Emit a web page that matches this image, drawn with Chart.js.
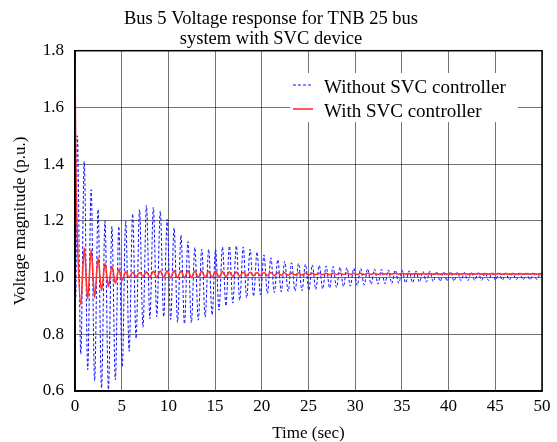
<!DOCTYPE html>
<html>
<head>
<meta charset="utf-8">
<script src="https://cdn.jsdelivr.net/npm/chart.js@4.4.1/dist/chart.umd.min.js"></script>
<style>
  html, body { margin: 0; padding: 0; background: #fff; }
  #wrap { width: 557px; height: 442px; }
</style>
</head>
<body>
<div id="wrap"><canvas id="voltChart" width="557" height="442"></canvas></div>
<script>
// time of each sample (sec) - turning points
const time = [
    0, 0.08,
    0.25, 0.62, 0.99, 1.36, 1.73, 2.10, 2.47, 2.84, 3.21, 3.58,
    3.95, 4.32, 4.69, 5.06, 5.43, 5.80, 6.17, 6.54, 6.91, 7.28,
    7.65, 8.02, 8.39, 8.76, 9.13, 9.50, 9.87, 10.24, 10.61, 10.98,
    11.35, 11.72, 12.09, 12.46, 12.83, 13.20, 13.57, 13.94, 14.31, 14.68,
    15.05, 15.42, 15.79, 16.16, 16.53, 16.90, 17.27, 17.64, 18.01, 18.38,
    18.75, 19.12, 19.49, 19.86, 20.23, 20.60, 20.97, 21.34, 21.71, 22.08,
    22.45, 22.82, 23.19, 23.56, 23.93, 24.30, 24.67, 25.04, 25.41, 25.78,
    26.15, 26.52, 26.89, 27.26, 27.63, 28.00, 28.37, 28.74, 29.11, 29.48,
    29.85, 30.22, 30.59, 30.96, 31.33, 31.70, 32.07, 32.44, 32.81, 33.18,
    33.55, 33.92, 34.29, 34.66, 35.03, 35.40, 35.77, 36.14, 36.51, 36.88,
    37.25, 37.62, 37.99, 38.36, 38.73, 39.10, 39.47, 39.84, 40.21, 40.58,
    40.95, 41.32, 41.69, 42.06, 42.43, 42.80, 43.17, 43.54, 43.91, 44.28,
    44.65, 45.02, 45.39, 45.76, 46.13, 46.50, 46.87, 47.24, 47.61, 47.98,
    48.35, 48.72, 49.09, 49.46, 49.83,
    50
];

// bus 5 voltage without SVC controller (p.u.)
const withoutSvc = [
    1.0, 0.93,
    1.50, 0.73, 1.41, 0.675, 1.31, 0.635, 1.24, 0.61, 1.20, 0.605,
    1.18, 0.64, 1.18, 0.685, 1.20, 0.74, 1.225, 0.785, 1.24, 0.825,
    1.255, 0.855, 1.248, 0.862, 1.235, 0.862, 1.205, 0.852, 1.175, 0.842,
    1.15, 0.837, 1.127, 0.84, 1.106, 0.85, 1.10, 0.86, 1.10, 0.868,
    1.10, 0.885, 1.108, 0.90, 1.111, 0.91, 1.112, 0.92, 1.108, 0.928,
    1.10, 0.934, 1.09, 0.94, 1.08, 0.944, 1.07, 0.947, 1.063, 0.95,
    1.057, 0.951, 1.052, 0.952, 1.05, 0.953, 1.047, 0.955, 1.045, 0.958,
    1.043, 0.96, 1.041, 0.963, 1.039, 0.965, 1.037, 0.968, 1.035, 0.97,
    1.033, 0.972, 1.032, 0.974, 1.031, 0.976, 1.03, 0.977, 1.029, 0.978,
    1.027, 0.979, 1.026, 0.98, 1.025, 0.981, 1.024, 0.982, 1.023, 0.984,
    1.022, 0.985, 1.022, 0.986, 1.021, 0.987, 1.02, 0.988, 1.02, 0.988,
    1.019, 0.989, 1.018, 0.989, 1.018, 0.99, 1.017, 0.99, 1.017, 0.99,
    1.016, 0.991, 1.016, 0.991, 1.015, 0.991, 1.015, 0.992, 1.014, 0.992,
    1.014, 0.992, 1.013, 0.993, 1.013,
    1.002
];

// bus 5 voltage with SVC controller (p.u.)
const withSvc = [
    1.75, 1.42,
    1.15, 0.905, 1.105, 0.925, 1.098, 0.93, 1.07, 0.955, 1.05, 0.968,
    1.04, 0.98, 1.028, 0.992, 1.02, 1.0, 1.018, 1.004, 1.018, 1.004,
    1.02, 1.002, 1.022, 1.0, 1.023, 1.0, 1.024, 0.999, 1.024, 0.999,
    1.024, 0.999, 1.024, 1.0, 1.023, 1.0, 1.023, 1.0, 1.022, 1.001,
    1.022, 1.002, 1.021, 1.003, 1.02, 1.004, 1.02, 1.005, 1.019, 1.006,
    1.019, 1.006, 1.018, 1.007, 1.018, 1.007, 1.018, 1.007, 1.017, 1.008,
    1.017, 1.008, 1.016, 1.009, 1.016, 1.009, 1.016, 1.009, 1.015, 1.01,
    1.015, 1.01, 1.015, 1.01, 1.015, 1.011, 1.015, 1.011, 1.015, 1.011,
    1.015, 1.011, 1.015, 1.011, 1.015, 1.011, 1.015, 1.011, 1.015, 1.012,
    1.015, 1.012, 1.015, 1.012, 1.015, 1.012, 1.014, 1.012, 1.014, 1.012,
    1.014, 1.012, 1.014, 1.012, 1.014, 1.012, 1.014, 1.012, 1.014, 1.012,
    1.014, 1.012, 1.014, 1.012, 1.014, 1.012, 1.014, 1.012, 1.014, 1.012,
    1.014, 1.012, 1.014, 1.012, 1.014, 1.012, 1.014, 1.012, 1.014, 1.012,
    1.014, 1.012, 1.014, 1.012, 1.014,
    1.013
];

const seriesLabels = ["Without SVC controller", "With SVC controller"];
const xTicks = [0, 5, 10, 15, 20, 25, 30, 35, 40, 45, 50];
const yTicks = [0.6, 0.8, 1.0, 1.2, 1.4, 1.6, 1.8];

const serif = "'Liberation Serif', 'Times New Roman', serif";

const toPoints = values => time.map((t, i) => ({ x: t, y: values[i] }));

// box round the plot + legend inside the plot
const frameLegend = {
    id: "frameLegend",
    afterDraw(chart) {
        const { ctx, chartArea: a } = chart;
        ctx.save();
        ctx.strokeStyle = "#000";
        ctx.lineWidth = 1.5;
        ctx.strokeRect(a.left, a.top, a.right - a.left, a.bottom - a.top);

        ctx.fillStyle = "#fff";
        ctx.fillRect(290, 73, 228, 49);

        const items = chart.data.datasets;
        const rows = [88, 112];
        ctx.font = "19px " + serif;
        ctx.textBaseline = "middle";
        items.forEach((ds, i) => {
            const y = rows[i] - 3;
            ctx.beginPath();
            ctx.strokeStyle = ds.borderColor;
            ctx.lineWidth = ds.borderWidth;
            ctx.setLineDash(ds.borderDash || []);
            ctx.moveTo(293, y);
            ctx.lineTo(313, y);
            ctx.stroke();
            ctx.setLineDash([]);
            ctx.fillStyle = "#000";
            ctx.fillText(ds.label, 324, rows[i]);
        });
        ctx.restore();
    }
};

new Chart(document.getElementById("voltChart"), {
    type: "line",
    data: {
        datasets: [
            {
                label: seriesLabels[0],
                data: toPoints(withoutSvc),
                borderColor: "#1010ff",
                borderWidth: 1,
                borderDash: [3, 2],
                pointRadius: 0,
                cubicInterpolationMode: "monotone",
                order: 1,
            },
            {
                label: seriesLabels[1],
                data: toPoints(withSvc),
                borderColor: "#ff3030",
                borderWidth: 1.6,
                pointRadius: 0,
                cubicInterpolationMode: "monotone",
                order: 0,
            },
        ],
    },
    options: {
        responsive: false,
        animation: false,
        devicePixelRatio: 1,
        layout: { padding: { left: 0, right: 15, top: 0, bottom: 0 } },
        plugins: {
            legend: { display: false },
            tooltip: { enabled: false },
            title: {
                display: true,
                text: ["Bus 5 Voltage response for TNB 25 bus", "system with SVC device"],
                color: "#000",
                font: { family: serif, size: 18.5, weight: "normal", lineHeight: 1.1 },
                padding: { top: 9, bottom: 1 },
            },
        },
        scales: {
            x: {
                type: "linear",
                min: 0,
                max: 50,
                afterBuildTicks: s => { s.ticks = xTicks.map(v => ({ value: v })); },
                afterFit: s => { s.height = 51; },
                ticks: {
                    color: "#000",
                    font: { family: serif, size: 17 },
                    padding: 5,
                    maxRotation: 0,
                },
                grid: { color: "rgba(0,0,0,0.55)", lineWidth: 1, drawTicks: false },
                border: { color: "#000", width: 1.5 },
                title: {
                    display: true,
                    text: "Time (sec)",
                    color: "#000",
                    font: { family: serif, size: 17, lineHeight: 1.0 },
                    padding: { top: 0, bottom: 0 },
                },
            },
            y: {
                min: 0.6,
                max: 1.8,
                afterBuildTicks: s => { s.ticks = yTicks.map(v => ({ value: v })); },
                afterFit: s => { s.width = 75; },
                ticks: {
                    color: "#000",
                    font: { family: serif, size: 17 },
                    padding: 11,
                    callback: v => v.toFixed(1),
                },
                grid: { color: "rgba(0,0,0,0.55)", lineWidth: 1, drawTicks: false },
                border: { color: "#000", width: 1.5 },
                title: {
                    display: true,
                    text: "Voltage magnitude (p.u.)",
                    color: "#000",
                    font: { family: serif, size: 17, lineHeight: 1.2 },
                    padding: { top: 10, bottom: 0 },
                },
            },
        },
    },
    plugins: [frameLegend],
});
</script>
</body>
</html>
